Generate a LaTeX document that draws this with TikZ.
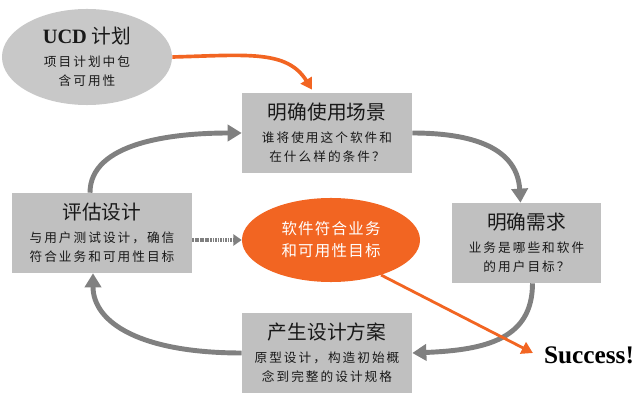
\documentclass[tikz,border=0pt]{standalone}
\usepackage{fontspec}
\setmainfont{Liberation Serif}
\newfontfamily\cjk{Noto Sans CJK SC}
\newfontfamily\cjksp[LetterSpace=16]{Noto Sans CJK SC}
\newfontfamily\cjkgoal[LetterSpace=8]{Noto Sans CJK SC}
\usetikzlibrary{arrows.meta, positioning, calc, shapes.geometric}

\definecolor{boxgray}{RGB}{192,192,192}
\definecolor{ucdgray}{RGB}{200,200,200}
\definecolor{arrowgray}{RGB}{128,128,128}
\definecolor{ucdorange}{RGB}{242,101,34}

\newcommand{\ttlfont}{\cjk\fontsize{14pt}{17pt}\selectfont}
\newcommand{\subfont}{\cjksp\fontsize{9pt}{14pt}\selectfont}
\newcommand{\goalfont}{\cjkgoal\fontsize{11pt}{15.5pt}\selectfont}

\begin{document}
\begin{tikzpicture}[x=0.025cm, y=-0.025cm,
    stepbox/.style={rectangle, fill=boxgray, minimum height=2cm, align=center,
        text=black!90, font=\subfont, inner sep=0pt},
    cyclearrow/.style={draw=arrowgray, line width=3.5pt,
        -{Triangle[length=10pt, width=11.5pt]}},
    orangearrow/.style={draw=ucdorange, line width=2.6pt,
        -{Triangle[length=8pt, width=9pt]}}]
    \useasboundingbox (0,0) rectangle (640,400);

    % the four steps of the cycle
    \node[stepbox, minimum width=4.25cm] (scene) at (327,133)
        {{\ttlfont 明确使用场景}\\[2pt]谁将使用这个软件和\\在什么样的条件？};
    \node[stepbox, minimum width=3.725cm] (need) at (526.5,243)
        {{\ttlfont 明确需求}\\[2pt]业务是哪些和软件\\的用户目标？};
    \node[stepbox, minimum width=4.25cm] (design) at (327,353)
        {{\ttlfont 产生设计方案}\\[2pt]原型设计，构造初始概\\念到完整的设计规格};
    \node[stepbox, minimum width=4.5cm] (eval) at (102,233)
        {{\ttlfont 评估设计}\\[2pt]与用户测试设计，确信\\符合业务和可用性目标};

    % plan, goal and result
    \node[ellipse, fill=ucdgray, minimum width=4.25cm, minimum height=2.4cm,
        align=center, font=\subfont, text=black!90, inner sep=0pt] (ucd) at (87,57)
        {{\rmfamily\fontsize{14.5pt}{17pt}\selectfont\bfseries UCD} {\ttlfont 计划}\\[2pt]项目计划中包\\含可用性};
    \node[ellipse, fill=ucdorange, minimum width=4.45cm, minimum height=2.1cm,
        align=center, font=\goalfont, text=white, inner sep=0pt] (goal) at (331,240)
        {软件符合业务\\和可用性目标};
    \node[font=\fontsize{18pt}{20pt}\selectfont\bfseries, inner sep=2pt] (succ) at (589,355)
        {Success!};

    % connectors
    \draw[orangearrow] (ucd.east) .. controls +(75,-2) and +(-25,-40) ..
        ($(scene.north)+(-15,-3)$);
    \draw[cyclearrow] ($(eval.north)+(-12,0)$) .. controls +(0,-50) and +(-70,0) ..
        (scene.west);
    \draw[cyclearrow] (scene.east) .. controls +(70,0) and +(-3,-50) ..
        ($(need.north)+(-6,0)$);
    \draw[cyclearrow] ($(need.south)+(6,0)$) .. controls +(0,55) and +(75,-3) ..
        (design.east);
    \draw[cyclearrow] (design.west) .. controls +(-100,0) and +(0,50) ..
        ($(eval.south)+(-9,0)$);
    \draw[draw=arrowgray, line width=2.8pt, dash pattern=on 1.2pt off 0.6pt,
        -{Triangle[length=6pt, width=8pt]}] (eval.east |- goal) -- (goal.west);
    \draw[orangearrow, line width=2pt] (goal.-35) -- ($(succ.west)+(-8,-2)$);
\end{tikzpicture}
\end{document}
